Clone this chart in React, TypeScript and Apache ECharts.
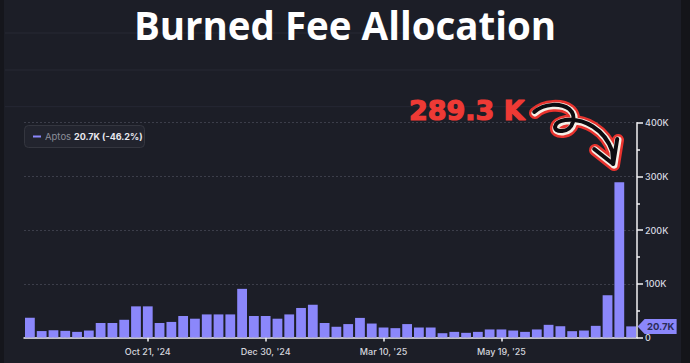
import React, { useEffect, useRef } from "react";
import * as echarts from "echarts";

const weeks: string[] = [
  "Aug 12, '24", "Aug 19, '24", "Aug 26, '24", "Sep 2, '24", "Sep 9, '24", "Sep 16, '24",
  "Sep 23, '24", "Sep 30, '24", "Oct 7, '24", "Oct 14, '24", "Oct 21, '24", "Oct 28, '24",
  "Nov 4, '24", "Nov 11, '24", "Nov 18, '24", "Nov 25, '24", "Dec 2, '24", "Dec 9, '24",
  "Dec 16, '24", "Dec 23, '24", "Dec 30, '24", "Jan 6, '25", "Jan 13, '25", "Jan 20, '25",
  "Jan 27, '25", "Feb 3, '25", "Feb 10, '25", "Feb 17, '25", "Feb 24, '25", "Mar 3, '25",
  "Mar 10, '25", "Mar 17, '25", "Mar 24, '25", "Mar 31, '25", "Apr 7, '25", "Apr 14, '25",
  "Apr 21, '25", "Apr 28, '25", "May 5, '25", "May 12, '25", "May 19, '25", "May 26, '25",
  "Jun 2, '25", "Jun 9, '25", "Jun 16, '25", "Jun 23, '25", "Jun 30, '25", "Jul 7, '25",
  "Jul 14, '25", "Jul 21, '25", "Jul 28, '25", "Aug 4, '25",
];

// Burned fee (in thousands)
const burnedK: number[] = [
  37, 12, 13.5, 12.4, 10.5, 13, 27, 27, 33, 58, 58, 27, 29, 40, 35, 43, 43, 43,
  90.6, 40, 40, 35, 43, 55, 61, 27, 20, 25, 36.5, 26, 18.6, 17.4, 25, 18.6, 18.6,
  8, 10.5, 8.7, 10.5, 15, 15, 13, 10.5, 15, 23.6, 21, 11.8, 13, 21.7, 78.7, 289.3, 20.7,
];

const labelIdx: number[] = [10, 20, 30, 40];
const yTicksK: number[] = [0, 100, 200, 300, 400];

const TITLE = "Burned Fee Allocation";
const SERIES_NAME = "Aptos";
const LEGEND_VALUE = "20.7K (-46.2%)";
const PEAK_LABEL = "289.3 K";
const LAST_LABEL = "20.7K";

const BG = "#1c1e27";
const BAR = "#8b87fb";

const arrowD =
  "M535 113 C545 104 562 104 570 110 C578 117 574 131 563 132 C553 133 553 123 566 121 C585 119 605 130 613 152 L614 165 M595 150 L614 165 L618 140";

let registered = false;

export default function App() {
  const ref = useRef<HTMLDivElement>(null);
  useEffect(() => {
    if (!registered) {
      echarts.graphic.registerShape("arrowCurl", echarts.graphic.extendPath(arrowD, {}) as any);
      registered = true;
    }
    const chart = echarts.init(ref.current!, null, { renderer: "svg" });
    const values = burnedK.map((v) => v * 1000);
    chart.setOption({
      animation: false,
      backgroundColor: BG,
      grid: { left: 24, right: 53, top: 122.7, bottom: 25.5, containLabel: false },
      xAxis: {
        type: "category",
        data: weeks,
        boundaryGap: true,
        axisLine: { show: true, lineStyle: { color: "#f2f2f5", width: 1.5 } },
        axisTick: {
          show: true,
          alignWithLabel: true,
          length: 4,
          interval: (i: number) => labelIdx.includes(i),
          lineStyle: { color: "#f2f2f5", width: 1.5 },
        },
        axisLabel: {
          interval: (i: number) => labelIdx.includes(i),
          color: "#d4d5dd",
          fontSize: 9,
          fontFamily: "Inter",
          fontWeight: 500,
          margin: 9,
        },
        splitLine: { show: false },
      },
      yAxis: {
        type: "value",
        position: "right",
        min: yTicksK[0] * 1000,
        max: yTicksK[yTicksK.length - 1] * 1000,
        interval: 100000,
        axisLine: { show: true, lineStyle: { color: "#f2f2f5", width: 1.5 } },
        axisTick: { show: true, length: 6, lineStyle: { color: "#f2f2f5", width: 1.5 } },
        minorTick: { show: true, splitNumber: 2, length: 3, lineStyle: { color: "#f2f2f5", width: 1.5 } },
        axisLabel: {
          color: "#d8d9e0",
          fontSize: 9,
          fontFamily: "Inter",
          fontWeight: 500,
          margin: 8,
          formatter: (v: number) => (v === 0 ? "0" : v / 1000 + "K"),
        },
        splitLine: {
          show: true,
          lineStyle: { color: "#3c3e4a", type: [2, 2], width: 1 },
        },
      },
      series: [
        {
          type: "bar",
          name: SERIES_NAME,
          data: values,
          barCategoryGap: "17%",
          itemStyle: { color: BAR },
        },
      ],
      graphic: [],
    });

    const lastVal = values[values.length - 1];
    const tagY = chart.convertToPixel({ yAxisIndex: 0 }, lastVal) as number;
    const axisX = chart.convertToPixel({ xAxisIndex: 0 }, weeks[weeks.length - 1]) as number;
    const ax = axisX + 6.5;

    const faint = (y: number, x2: number) => ({
      type: "line",
      shape: { x1: 5, y1: y, x2, y2: y },
      style: { stroke: "#262834", lineWidth: 1 },
      silent: true,
    });

    const arrow = (stroke: string, w: number, dx = 0, dy = 0) => ({
      type: "arrowCurl",
      x: dx,
      y: dy,
      style: { fill: "none", stroke, lineWidth: w, lineCap: "round", lineJoin: "round" },
      z: 100,
    });

    chart.setOption({
      graphic: [
        { type: "rect", shape: { x: 0, y: 0, width: 4, height: 363 }, style: { fill: "#15161c" }, silent: true },
        { type: "rect", shape: { x: 681, y: 0, width: 9, height: 363 }, style: { fill: "#141519" }, silent: true },
        faint(33, 520),
        faint(70, 540),
        faint(106.7, 660),
        {
          type: "text",
          x: 345,
          y: 5,
          style: {
            text: TITLE,
            fill: "#ffffff",
            font: "bold 38.5px 'Open Sans'",
            align: "center",
            verticalAlign: "top",
          },
          z: 100,
        },
        {
          type: "rect",
          shape: { x: 24.5, y: 125.5, width: 120, height: 22, r: 4 },
          style: { fill: "#22242e", stroke: "#34363f", lineWidth: 1 },
          z: 50,
        },
        {
          type: "line",
          shape: { x1: 33, y1: 136.5, x2: 41, y2: 136.5 },
          style: { stroke: BAR, lineWidth: 2 },
          z: 51,
        },
        {
          type: "text",
          x: 45,
          y: 136.5,
          style: { text: SERIES_NAME, fill: "#8c8e99", font: "9.5px Inter", verticalAlign: "middle" },
          z: 51,
        },
        {
          type: "text",
          x: 74,
          y: 136.5,
          style: { text: LEGEND_VALUE, fill: "#e8e8ef", font: "bold 9px Inter", verticalAlign: "middle" },
          z: 51,
        },
        {
          type: "text",
          x: 409,
          y: 110,
          style: {
            text: PEAK_LABEL,
            fill: "#ee3a35",
            stroke: "#ee3a35",
            lineWidth: 1.2,
            font: "bold 27px 'DejaVu Sans'",
            verticalAlign: "middle",
          },
          z: 100,
        },
        arrow("#e8332e", 12),
        arrow("#f4efe6", 7),
        arrow("#0c0c10", 4, -0.8, -1),
        {
          type: "polygon",
          shape: {
            points: [
              [ax, tagY],
              [ax + 7, tagY - 7.5],
              [ax + 39, tagY - 7.5],
              [ax + 39, tagY + 7.5],
              [ax + 7, tagY + 7.5],
            ],
          },
          style: { fill: BAR },
          z: 100,
        },
        {
          type: "text",
          x: ax + 23,
          y: tagY,
          style: {
            text: LAST_LABEL,
            fill: "#2a2c58",
            font: "bold 9.5px Inter",
            align: "center",
            verticalAlign: "middle",
          },
          z: 101,
        },
      ],
    });
    return () => chart.dispose();
  }, []);
  return (
    <div
      ref={ref}
      style={{ position: "fixed", left: 0, top: 0, width: 690, height: 363 }}
    />
  );
}
